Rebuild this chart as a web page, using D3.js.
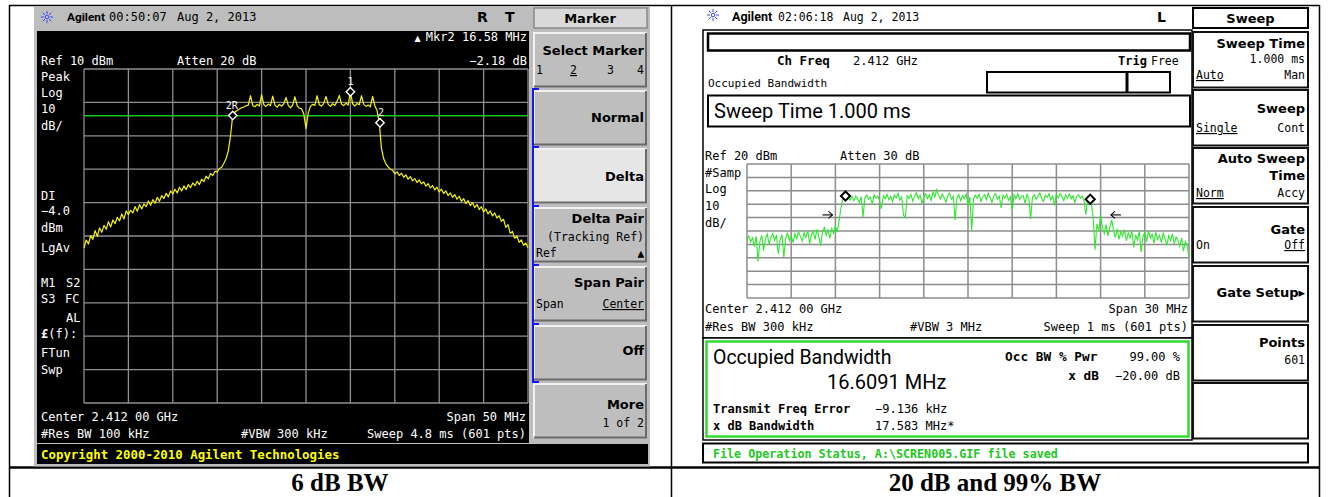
<!DOCTYPE html>
<html>
<head>
<meta charset="utf-8">
<script src="https://cdn.jsdelivr.net/npm/d3@7"></script>
<style>
  html, body { margin: 0; padding: 0; background: #fff; }
  svg { display: block; }
</style>
</head>
<body>
<svg id="chart" width="1334" height="497"></svg>
<script>
// ---------- 6 dB bandwidth sweep (span 50 MHz, 0.25 MHz per value) ----------
const leftFreqTicks = [-25, -20, -15, -10, -5, 0, 5, 10, 15, 20, 25];      // MHz offset from 2.412 GHz
const leftLevelTicks = [10, 0, -10, -20, -30, -40, -50, -60, -70, -80, -90]; // dBm
const leftStartMHz = -25;
const leftStepMHz = 0.25;
const leftTrace = [
  -43.6,-41.2,-42.4,-39.9,-41.0,-38.4,-40.1,-37.6,-38.9,-36.8,
  -38.0,-35.7,-37.3,-35.2,-36.3,-34.4,-35.5,-33.4,-34.9,-32.5,
  -33.6,-32.3,-33.1,-31.2,-32.6,-30.6,-31.9,-30.4,-31.2,-29.5,
  -30.8,-29.1,-30.2,-28.4,-29.6,-27.9,-28.8,-27.2,-28.3,-26.5,
  -27.4,-26.0,-27.1,-25.4,-26.5,-25.0,-26.1,-24.6,-25.5,-24.1,
  -24.9,-23.6,-24.6,-23.0,-23.7,-22.1,-22.9,-21.3,-21.9,-20.6,
  -20.8,-19.8,-19.4,-18.2,-16.8,-14.5,-10.0,-3.9,
  -2.9,-2.4,-2.0,-1.6,-1.4,-1.0,-0.8,2.0,-0.9,-1.3,
  -0.6,-1.1,2.3,-0.7,-1.2,-0.5,-1.0,1.9,-0.8,-1.4,
  -0.6,-1.1,-0.4,1.5,-0.9,-1.6,-0.8,1.7,-1.0,-1.7,
  -1.9,-3.5,-7.8,-3.2,
  -1.2,-0.6,-0.9,2.0,-0.7,-1.1,-0.3,1.8,-0.6,-1.2,
  -0.4,-0.9,0.3,2.1,-0.5,-1.0,-0.2,-0.8,3.2,-0.4,
  -1.1,-0.3,-0.7,2.0,-0.6,-1.2,-0.8,-1.3,1.8,-1.0,
  -2.4,-6.1,
  -13.8,-16.9,-18.4,-19.3,-20.0,-20.3,-21.4,-20.8,-21.9,-21.2,
  -22.4,-21.7,-23.0,-22.2,-23.5,-22.8,-24.0,-23.2,-24.4,-23.8,
  -25.1,-24.3,-25.6,-24.9,-26.2,-25.4,-26.8,-26.0,-27.3,-26.5,
  -27.9,-27.1,-28.4,-27.6,-29.0,-28.1,-29.6,-28.8,-30.3,-29.4,
  -30.9,-30.0,-31.5,-30.6,-32.1,-31.2,-32.8,-31.9,-33.4,-32.5,
  -34.0,-33.1,-34.6,-33.9,-35.6,-35.0,-37.4,-36.6,-39.2,-38.6,
  -40.7,-40.0,-41.9,-41.2,-42.8,-42.1,-43.5
];
const leftDisplayLine = -4.0;                     // dBm
const marker2Ref = { f: -8.25, dBm: -3.9 };       // reference marker "2R"
const marker2Delta = { f: 16.58, dB: -2.18 };     // delta readout of marker 2
const marker1 = { f: 5.0, dBm: 3.2 };

// ---------- 20 dB / 99 % bandwidth sweep (span 30 MHz, 0.125 MHz per value) ----------
const rightFreqTicks = [-15, -12, -9, -6, -3, 0, 3, 6, 9, 12, 15];
const rightLevelTicks = [20, 10, 0, -10, -20, -30, -40, -50, -60, -70, -80];
const rightStartMHz = -15;
const rightStepMHz = 0.125;
const rightTrace = [
  -36.5,-33.8,-38.2,-35.1,-41.7,-34.0,-52.8,-37.9,-33.2,-44.6,
  -35.7,-32.4,-39.8,-34.6,-31.9,-37.1,-33.0,-47.2,-36.2,-32.8,
  -49.5,-35.4,-31.6,-36.9,-33.5,-38.7,-32.1,-35.8,-30.4,-34.2,
  -37.6,-31.3,-35.0,-29.8,-39.4,-32.6,-30.1,-36.3,-28.7,-33.9,
  -41.2,-30.5,-27.4,-33.1,-29.3,-35.6,-28.2,-31.7,-26.4,-30.8,
  -22.5,-13.0,-6.2,-4.4,-3.6,
  -5.2,-6.8,-4.1,-7.5,-3.9,-5.6,-8.9,-4.4,-19.6,-5.1,
  -3.2,-6.4,-4.8,-9.7,-2.9,-5.5,-4.0,-7.2,-13.4,-3.6,
  -5.9,-2.4,-6.6,-4.3,-8.1,-3.0,-5.4,-1.9,-6.9,-4.6,
  -18.3,-20.1,-3.8,-5.7,-2.7,-7.8,-4.2,-1.5,-6.0,-3.4,
  -9.2,-4.9,-2.2,-5.8,-3.1,-7.0,-0.9,-4.5,0.8,-3.3,
  -6.2,-2.6,-5.0,-8.4,-3.7,-1.8,-6.3,-4.1,-21.8,-5.3,
  -2.9,-7.4,-3.5,-5.9,-2.3,-11.2,-4.7,-29.7,-6.1,-3.2,
  -5.6,-2.5,-7.9,-4.4,-3.0,-6.7,-1.6,-5.2,-8.6,-3.9,
  -2.1,-6.3,-4.0,-12.7,-3.4,-5.5,-2.8,-7.1,-4.6,-14.5,
  -3.1,-5.8,-2.0,-6.6,-4.3,-3.5,-9.4,-2.6,-5.1,-21.0,
  -4.8,-2.9,-6.4,-3.7,-1.7,-5.9,-8.0,-3.3,-4.9,-2.2,
  -6.8,-3.8,-10.9,-2.7,-5.3,-1.9,-4.6,-7.3,-3.1,-5.7,
  -2.4,-6.1,-3.6,-8.7,-4.2,-2.8,-5.4,-3.9,-7.6,-17.9,
  -4.3,-5.0,
  -9.8,-20.4,-44.0,-24.6,-30.1,-18.2,-27.5,-31.8,-25.3,-33.6,
  -27.0,-21.7,-29.4,-34.9,-28.3,-36.2,-30.7,-33.8,-28.9,-37.4,
  -31.5,-35.0,-29.6,-42.3,-32.8,-36.7,-30.2,-45.6,-34.1,-31.0,
  -37.9,-29.8,-35.3,-32.4,-39.0,-30.9,-36.4,-33.1,-38.6,-31.7,
  -35.9,-40.8,-33.4,-37.2,-31.9,-39.5,-34.6,-36.8,-41.4,-35.2,
  -45.1,-37.8,-40.6,-49.8
];
const occBwMHz = 16.6091;
const freqErrorKHz = -9.136;
const xdBBwMHz = 17.583;
const occBwPct = 99.00;
const xdBLevel = -20.00;
const obwMarkerLevels = [-3.9, -6.3];   // dBm at the two occupied-bandwidth edges
const xdBArrowFreqs = [-9.2, 9.7];      // MHz, arrow tips beside the x dB edges
const xdBArrowLevel = -18;              // dBm

// ---------- soft-key menus ----------
const keyTops = [32, 90, 148, 207, 266, 325, 383];
const leftKeys = [
  [{t:'Select Marker', dy:23, b:1, x:'R'}, {t:'1', dy:42, x:'L'}, {t:'2', dy:42, x:37, u:1}, {t:'3', dy:42, x:74}, {t:'4', dy:42, x:'R'}],
  [{t:'Normal', dy:32, b:1, x:'R'}],
  [{t:'Delta', dy:33, b:1, x:'R'}],
  [{t:'Delta Pair', dy:16, b:1, x:'R'}, {t:'(Tracking Ref)', dy:34, x:'R'}, {t:'Ref', dy:50, x:'L'}, {t:'\u25B2', dy:49, x:'R', u:1, fs:8}],
  [{t:'Span Pair', dy:21, b:1, x:'R'}, {t:'Span', dy:42, x:'L'}, {t:'Center', dy:42, x:'R', u:1}],
  [{t:'Off', dy:30, b:1, x:'R'}],
  [{t:'More', dy:26, b:1, x:'R'}, {t:'1 of 2', dy:44, x:'R'}]
];
const rightKeys = [
  [{t:'Sweep Time', dy:16, b:1, x:'R'}, {t:'1.000 ms', dy:31, x:'R'}, {t:'Auto', dy:47, x:'L', u:1}, {t:'Man', dy:47, x:'R'}],
  [{t:'Sweep', dy:23, b:1, x:'R'}, {t:'Single', dy:42, x:'L', u:1}, {t:'Cont', dy:42, x:'R'}],
  [{t:'Auto Sweep', dy:15, b:1, x:'R'}, {t:'Time', dy:32, b:1, x:'R'}, {t:'Norm', dy:49, x:'L', u:1}, {t:'Accy', dy:49, x:'R'}],
  [{t:'Gate', dy:27, b:1, x:'R'}, {t:'On', dy:42, x:'L'}, {t:'Off', dy:42, x:'R', u:1}],
  [{t:'Gate Setup\u25B8', dy:31, b:1, x:'R'}],
  [{t:'Points', dy:22, b:1, x:'R'}, {t:'601', dy:39, x:'R'}],
  []
];

// ---------- helpers ----------
const MONO = "'DejaVu Sans Mono', 'Liberation Mono', monospace";
const SANS = "'DejaVu Sans', sans-serif";
const ROBO = "Roboto, 'Liberation Sans', sans-serif";
const SERIF = "'Liberation Serif', 'Times New Roman', serif";

const svg = d3.select('#chart');

function txt(g, x, y, s, o = {}) {
  const t = g.append('text')
    .attr('x', x).attr('y', y).text(s)
    .attr('font-family', o.ff || MONO)
    .attr('font-size', o.fs || 12)
    .attr('fill', o.fill || '#000');
  if (o.bold) t.attr('font-weight', 'bold');
  if (o.anchor) t.attr('text-anchor', o.anchor);
  if (o.u) t.attr('text-decoration', 'underline');
  return t;
}

function sparkIcon(g, cx, cy) {
  const ic = g.append('g').attr('stroke', '#3a48ff').attr('stroke-width', 1);
  for (let k = 0; k < 8; k++) {
    const a = k * Math.PI / 4;
    ic.append('line')
      .attr('x1', cx + Math.cos(a) * 3).attr('y1', cy + Math.sin(a) * 3)
      .attr('x2', cx + Math.cos(a) * 6).attr('y2', cy + Math.sin(a) * 6);
  }
  ic.append('circle').attr('cx', cx).attr('cy', cy).attr('r', 1.8).attr('fill', 'none');
}

function diamond(g, x, y, r, stroke, fill, sw) {
  g.append('path')
    .attr('d', `M${x},${y - r}L${x + r},${y}L${x},${y + r}L${x - r},${y}Z`)
    .attr('stroke', stroke).attr('stroke-width', sw).attr('fill', fill);
}

function keyText(g, x0, x1, top, items, color) {
  items.forEach(it => {
    let x, anchor;
    if (it.x === 'R') { x = x1 - 3; anchor = 'end'; }
    else if (it.x === 'L') { x = x0 + 3; anchor = 'start'; }
    else { x = x0 + it.x; anchor = 'start'; }
    txt(g, x, top + it.dy, it.t, {
      ff: (it.b || it.fs) ? SANS : MONO,
      fs: it.fs || (it.b ? 13 : 11.5),
      bold: !!it.b, anchor, u: !!it.u, fill: color
    });
  });
}

// ---------- table frame and captions ----------
const frame = svg.append('g').attr('stroke', '#000').attr('fill', 'none');
frame.append('line').attr('x1', 9).attr('x2', 1320).attr('y1', 5.5).attr('y2', 5.5).attr('stroke-width', 1.5);
frame.append('line').attr('x1', 9.5).attr('x2', 9.5).attr('y1', 5).attr('y2', 497).attr('stroke-width', 1.5);
frame.append('line').attr('x1', 671.5).attr('x2', 671.5).attr('y1', 5).attr('y2', 497).attr('stroke-width', 1.5);
frame.append('line').attr('x1', 1319.5).attr('x2', 1319.5).attr('y1', 5).attr('y2', 497).attr('stroke-width', 1.5);
frame.append('line').attr('x1', 9).attr('x2', 1320).attr('y1', 467.5).attr('y2', 467.5).attr('stroke-width', 2.5);

txt(svg, 340, 491, '6 dB BW', { ff: SERIF, fs: 25, bold: true, anchor: 'middle' });
txt(svg, 995, 491, '20 dB and 99% BW', { ff: SERIF, fs: 25, bold: true, anchor: 'middle' });

// =====================================================================
// Left instrument screen: 6 dB bandwidth
// =====================================================================
const L = svg.append('g');
L.append('rect').attr('x', 34).attr('y', 6.5).attr('width', 616).attr('height', 460).attr('fill', '#bdbdbd');

// title bar
sparkIcon(L, 47, 17);
txt(L, 67, 21, 'Agilent', { ff: ROBO, fs: 11.8, bold: true });
txt(L, 109, 21, '00:50:07', { fs: 12 });
txt(L, 177, 21, 'Aug 2, 2013', { fs: 12 });
txt(L, 477, 22, 'R', { ff: SANS, fs: 14, bold: true });
txt(L, 505, 22, 'T', { ff: SANS, fs: 14, bold: true });

// display area
L.append('rect').attr('x', 37).attr('y', 31).attr('width', 492).attr('height', 412).attr('fill', '#000');

const xL = d3.scaleLinear().domain([-25, 25]).range([84, 528]);
const yL = d3.scaleLinear().domain([-90, 10]).range([403, 69]);

const gridL = L.append('g').attr('stroke', '#8f8f8f').attr('stroke-width', 1.3);
gridL.selectAll('line.v').data(leftFreqTicks).join('line').attr('class', 'v')
  .attr('x1', d => xL(d)).attr('x2', d => xL(d)).attr('y1', yL(10)).attr('y2', yL(-90));
gridL.selectAll('line.h').data(leftLevelTicks).join('line').attr('class', 'h')
  .attr('y1', d => yL(d)).attr('y2', d => yL(d)).attr('x1', xL(-25)).attr('x2', xL(25));

// display line
L.append('line').attr('x1', xL(-25)).attr('x2', xL(25))
  .attr('y1', yL(leftDisplayLine)).attr('y2', yL(leftDisplayLine))
  .attr('stroke', '#16c816').attr('stroke-width', 1.4);

// trace
const leftPts = leftTrace.map((v, i) => [leftStartMHz + i * leftStepMHz, v]);
L.append('path').datum(leftPts)
  .attr('d', d3.line().x(d => xL(d[0])).y(d => yL(d[1])))
  .attr('fill', 'none').attr('stroke', '#f4f40c').attr('stroke-width', 1.2)
  .attr('stroke-linejoin', 'round');

// markers
const marker2 = { f: marker2Ref.f + marker2Delta.f, dBm: marker2Ref.dBm + marker2Delta.dB };
const mk = L.append('g');
diamond(mk, xL(marker2Ref.f), yL(marker2Ref.dBm), 4.2, '#ffffff', '#000', 1.4);
diamond(mk, xL(marker1.f), yL(marker1.dBm), 4.2, '#ffffff', '#000', 1.4);
diamond(mk, xL(marker2.f), yL(marker2.dBm), 4.2, '#ffffff', '#000', 1.4);
txt(mk, xL(marker2Ref.f) - 1, yL(marker2Ref.dBm) - 6, '2R', { fs: 10, fill: '#fff', anchor: 'middle' });
txt(mk, xL(marker1.f), yL(marker1.dBm) - 7, '1', { fs: 10, fill: '#fff', anchor: 'middle' });
txt(mk, xL(marker2.f) + 1, yL(marker2.dBm) - 7, '2', { fs: 10, fill: '#fff', anchor: 'middle' });

// annotations
const W = '#ffffff';
const mkrLine = txt(L, 527, 41, '', { fill: W, anchor: 'end' });
mkrLine.append('tspan').attr('font-size', 8).attr('font-family', SANS).text('\u25B2\u00A0\u00A0');
mkrLine.append('tspan').text(`Mkr2 ${marker2Delta.f.toFixed(2)} MHz`);
txt(L, 41, 65, 'Ref 10 dBm', { fill: W });
txt(L, 177, 65, 'Atten 20 dB', { fill: W });
txt(L, 527, 65, `\u2212${Math.abs(marker2Delta.dB).toFixed(2)} dB`, { fill: W, anchor: 'end' });
[['Peak', 81], ['Log', 97], ['10', 113], ['dB/', 130], ['DI', 200], [`\u2212${Math.abs(leftDisplayLine).toFixed(1)}`, 215],
 ['dBm', 232], ['LgAv', 252], ['M1', 287], ['S3', 303], ['FTun', 357], ['Swp', 374]]
  .forEach(([s, y]) => txt(L, 41, y, s, { fill: W }));
txt(L, 66, 287, 'S2', { fill: W });
txt(L, 65, 303, 'FC', { fill: W });
txt(L, 66, 322, 'AL', { fill: W });
const ff = txt(L, 41, 338, '', { fill: W });
ff.append('tspan').attr('font-weight', 'bold').text('\u00A3');
ff.append('tspan').text('(f):');
txt(L, 41, 421, 'Center 2.412 00 GHz', { fill: W });
txt(L, 526, 421, 'Span 50 MHz', { fill: W, anchor: 'end' });
txt(L, 41, 438, '#Res BW 100 kHz', { fill: W });
txt(L, 241, 438, '#VBW 300 kHz', { fill: W });
txt(L, 526, 438, 'Sweep 4.8 ms (601 pts)', { fill: W, anchor: 'end' });

// copyright bar
L.append('rect').attr('x', 37).attr('y', 444).attr('width', 611).attr('height', 20).attr('fill', '#000');
txt(L, 41, 459, 'Copyright 2000-2010 Agilent Technologies', { fs: 12.4, bold: true, fill: '#ffff00' });

// soft keys
const kxL0 = 533, kxL1 = 647;
L.append('rect').attr('x', kxL0 + 1).attr('y', 8).attr('width', kxL1 - kxL0 - 1).attr('height', 20)
  .attr('fill', '#d9d9d9').attr('stroke', '#7a7a7a').attr('stroke-width', 1.2);
txt(L, (kxL0 + kxL1) / 2, 23, 'Marker', { ff: SANS, fs: 13, bold: true, anchor: 'middle' });
keyTops.forEach((top, i) => {
  const h = 55.5, w = kxL1 - kxL0;
  const fill = i === 2 ? '#e6e6e6' : '#bebebe';
  L.append('rect').attr('x', kxL0).attr('y', top).attr('width', w).attr('height', h).attr('fill', fill);
  L.append('path').attr('d', `M${kxL0 + 1},${top + h}V${top + 1}H${kxL1}`)
    .attr('stroke', '#f2f2f2').attr('stroke-width', 2).attr('fill', 'none');
  L.append('path').attr('d', `M${kxL0 + 1},${top + h - 1}H${kxL1 - 1}V${top + 1}`)
    .attr('stroke', '#6a6a6a').attr('stroke-width', 2).attr('fill', 'none');
  keyText(L, kxL0, kxL1, top, leftKeys[i], '#000');
});
// blue bracket grouping keys 2 to 6
const br = L.append('g').attr('stroke', '#1414ff').attr('stroke-width', 2).attr('fill', 'none');
br.append('line').attr('x1', 533).attr('x2', 533).attr('y1', keyTops[1] - 1).attr('y2', keyTops[6] - 1);
keyTops.slice(1).forEach(t => br.append('line').attr('x1', 532).attr('x2', 539).attr('y1', t - 1).attr('y2', t - 1));

// =====================================================================
// Right instrument screen: occupied bandwidth
// =====================================================================
const R = svg.append('g');
sparkIcon(R, 713, 15);
txt(R, 732, 21, 'Agilent', { ff: ROBO, fs: 12.5, bold: true });
txt(R, 778, 21, '02:06:18', { fs: 11.5 });
txt(R, 843, 21, 'Aug 2, 2013', { fs: 11.5 });
txt(R, 1157, 22, 'L', { ff: SANS, fs: 14, bold: true });

R.append('rect').attr('x', 703).attr('y', 30).attr('width', 489).attr('height', 308)
  .attr('fill', '#fff').attr('stroke', '#000').attr('stroke-width', 1.5);
R.append('rect').attr('x', 708).attr('y', 33.5).attr('width', 482).attr('height', 17)
  .attr('fill', 'none').attr('stroke', '#000').attr('stroke-width', 2.5);
txt(R, 777, 65, 'Ch Freq', { fs: 12.5, bold: true });
txt(R, 853, 65, '2.412 GHz', { fs: 12 });
txt(R, 1118, 65, 'Trig', { fs: 12, bold: true });
txt(R, 1151, 65, 'Free', { fs: 11.5 });
txt(R, 708, 87, 'Occupied Bandwidth', { fs: 11 });
R.append('rect').attr('x', 987).attr('y', 72).attr('width', 183).attr('height', 20.5)
  .attr('fill', 'none').attr('stroke', '#000').attr('stroke-width', 2);
R.append('line').attr('x1', 1127).attr('x2', 1127).attr('y1', 72).attr('y2', 92.5)
  .attr('stroke', '#000').attr('stroke-width', 3);
R.append('rect').attr('x', 708).attr('y', 95.5).attr('width', 482).attr('height', 31)
  .attr('fill', 'none').attr('stroke', '#000').attr('stroke-width', 2);
txt(R, 714, 118, 'Sweep Time 1.000 ms', { ff: ROBO, fs: 20 });

txt(R, 705, 160, 'Ref 20 dBm');
txt(R, 840, 160, 'Atten 30 dB');
[['#Samp', 177], ['Log', 193], ['10', 210], ['dB/', 227]].forEach(([s, y]) => txt(R, 705, y, s));

const xR = d3.scaleLinear().domain([-15, 15]).range([747, 1189]);
const yR = d3.scaleLinear().domain([-80, 20]).range([298, 164]);
const gridR = R.append('g').attr('stroke', '#8c8c8c').attr('stroke-width', 1.5);
gridR.selectAll('line.v').data(rightFreqTicks).join('line').attr('class', 'v')
  .attr('x1', d => xR(d)).attr('x2', d => xR(d)).attr('y1', yR(20)).attr('y2', yR(-80));
gridR.selectAll('line.h').data(rightLevelTicks).join('line').attr('class', 'h')
  .attr('y1', d => yR(d)).attr('y2', d => yR(d)).attr('x1', xR(-15)).attr('x2', xR(15));

const rightPts = rightTrace.map((v, i) => [rightStartMHz + i * rightStepMHz, v]);
R.append('path').datum(rightPts)
  .attr('d', d3.line().x(d => xR(d[0])).y(d => yR(d[1])))
  .attr('fill', 'none').attr('stroke', '#2ee82e').attr('stroke-width', 1.1);

// occupied bandwidth edges (diamonds) and x dB edges (arrows)
const fc = freqErrorKHz / 1000;
const obwEdges = [fc - occBwMHz / 2, fc + occBwMHz / 2];
obwEdges.forEach((f, k) => diamond(R, xR(f), yR(obwMarkerLevels[k]), 4.6, '#000', '#fff', 2));
const ar = R.append('g').attr('stroke', '#000').attr('stroke-width', 1.1).attr('fill', 'none');
xdBArrowFreqs.forEach((f, k) => {
  const x = xR(f), y = yR(xdBArrowLevel), dir = k === 0 ? 1 : -1;
  ar.append('line').attr('x1', x - dir * 10).attr('x2', x).attr('y1', y).attr('y2', y);
  ar.append('path').attr('d', `M${x - dir * 4},${y - 3.5}L${x},${y}L${x - dir * 4},${y + 3.5}`);
});

txt(R, 705, 313, 'Center 2.412 00 GHz');
txt(R, 1188, 313, 'Span 30 MHz', { anchor: 'end' });
txt(R, 705, 331, '#Res BW 300 kHz');
txt(R, 910, 331, '#VBW 3 MHz');
txt(R, 1188, 331, 'Sweep 1 ms (601 pts)', { anchor: 'end' });

// result panel
R.append('rect').attr('x', 703).attr('y', 338).attr('width', 489).attr('height', 102)
  .attr('fill', '#fff').attr('stroke', '#000').attr('stroke-width', 1.5);
R.append('rect').attr('x', 706.5).attr('y', 341.5).attr('width', 482).attr('height', 95)
  .attr('fill', 'none').attr('stroke', '#2fdc2f').attr('stroke-width', 2.5);
txt(R, 713, 364, 'Occupied Bandwidth', { ff: ROBO, fs: 19.5 });
txt(R, 827, 389, `${occBwMHz.toFixed(4)} MHz`, { ff: ROBO, fs: 20 });
txt(R, 1005, 361, 'Occ BW % Pwr', { fs: 12.8, bold: true });
txt(R, 1180, 361, `${occBwPct.toFixed(2)} %`, { anchor: 'end' });
txt(R, 1099, 380, 'x dB', { fs: 12.8, bold: true, anchor: 'end' });
txt(R, 1180, 380, `\u2212${Math.abs(xdBLevel).toFixed(2)} dB`, { anchor: 'end' });
txt(R, 713, 413, 'Transmit Freq Error', { fs: 12, bold: true });
txt(R, 875, 413, `\u2212${Math.abs(freqErrorKHz).toFixed(3)} kHz`);
txt(R, 713, 430, 'x dB Bandwidth', { fs: 12, bold: true });
txt(R, 875, 430, `${xdBBwMHz.toFixed(3)} MHz*`);

// status line
R.append('rect').attr('x', 703).attr('y', 443.5).attr('width', 605).attr('height', 19)
  .attr('fill', '#fff').attr('stroke', '#000').attr('stroke-width', 2);
txt(R, 713, 458, 'File Operation Status, A:\\SCREN005.GIF file saved', { fs: 11.7, bold: true, fill: '#22c622' });

// soft keys
const kxR0 = 1193, kxR1 = 1308;
R.append('rect').attr('x', kxR0).attr('y', 8).attr('width', kxR1 - kxR0).attr('height', 20)
  .attr('fill', '#fff').attr('stroke', '#000').attr('stroke-width', 2);
txt(R, (kxR0 + kxR1) / 2, 23, 'Sweep', { ff: SANS, fs: 13, bold: true, anchor: 'middle' });
keyTops.forEach((top, i) => {
  R.append('rect').attr('x', kxR0).attr('y', top).attr('width', kxR1 - kxR0).attr('height', 55.5)
    .attr('fill', '#fff').attr('stroke', '#111').attr('stroke-width', 2);
  keyText(R, kxR0, kxR1, top, rightKeys[i], '#000');
});
</script>
</body>
</html>
